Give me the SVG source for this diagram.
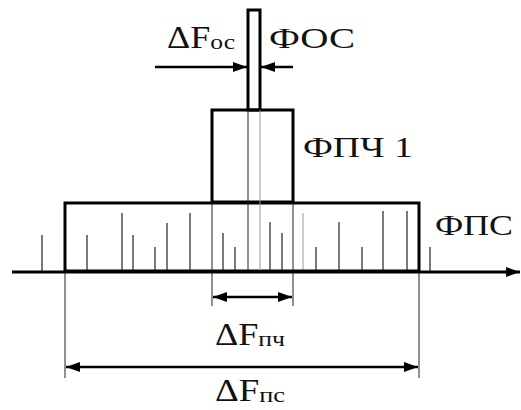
<svg xmlns="http://www.w3.org/2000/svg" width="521" height="410" viewBox="0 0 521 410">
<style>
.box{fill:none;stroke:#000;stroke-width:3}
.thin{stroke:#222;stroke-width:1}
.faint{stroke:#999;stroke-width:1}
.line{stroke:#333;stroke-width:1.3}
.dim{stroke:#000;stroke-width:2.5;fill:none}
.lbl{font-family:"Liberation Serif","Times New Roman",serif;font-size:29px;fill:#111}
.big{font-size:31px}
.sub{font-size:22px}
</style>
<defs>
<marker id="ah" viewBox="0 0 14 10" refX="14" refY="5" markerWidth="14" markerHeight="10" markerUnits="userSpaceOnUse" orient="auto-start-reverse">
<path d="M0,0 L14,5 L0,10 Z" fill="#000"/>
</marker>
</defs>
<g id="spectrum">
<line class="line" x1="42" y1="235" x2="42" y2="271"/>
<line class="line" x1="87" y1="235" x2="87" y2="271"/>
<line class="line" x1="122" y1="213" x2="122" y2="271"/>
<line class="line" x1="133" y1="235" x2="133" y2="271"/>
<line class="line" x1="155" y1="247" x2="155" y2="271"/>
<line class="line" x1="167" y1="223" x2="167" y2="271"/>
<line class="line" x1="190" y1="213" x2="190" y2="271"/>
<line class="line" x1="223" y1="233" x2="223" y2="271"/>
<line class="line" x1="235" y1="247" x2="235" y2="271"/>
<line class="line" x1="270" y1="222" x2="270" y2="271"/>
<line class="line" x1="282" y1="233" x2="282" y2="271"/>
<line class="faint" x1="303" y1="213" x2="303" y2="271"/>
<line class="line" x1="316" y1="247" x2="316" y2="271"/>
<line class="line" x1="339" y1="222" x2="339" y2="271"/>
<line class="line" x1="362" y1="247" x2="362" y2="271"/>
<line class="line" x1="383" y1="211" x2="383" y2="271"/>
<line class="line" x1="407" y1="211" x2="407" y2="271"/>
<line class="line" x1="430" y1="247" x2="430" y2="271"/>
</g>
<g id="FPS">
<rect class="box" x="65" y="203" width="354" height="68"/>
<text class="lbl" x="435" y="235" textLength="78" lengthAdjust="spacingAndGlyphs">ФПС</text>
</g>
<g id="FPCH">
<rect class="box" x="212" y="110" width="81" height="92"/>
<text class="lbl" x="303" y="157" textLength="110" lengthAdjust="spacingAndGlyphs">ФПЧ 1</text>
</g>
<g id="FOS">
<rect class="box" x="248" y="10" width="12" height="100"/>
<text class="lbl" x="269" y="48" textLength="86" lengthAdjust="spacingAndGlyphs">ФОС</text>
</g>
<g id="connectors">
<line class="thin" x1="248" y1="110" x2="248" y2="271"/>
<line class="faint" x1="260" y1="110" x2="260" y2="271"/>
<line class="thin" x1="212" y1="203" x2="212" y2="306"/>
<line class="thin" x1="293" y1="203" x2="293" y2="306"/>
<line class="thin" x1="65" y1="271" x2="65" y2="378"/>
<line class="thin" x1="419" y1="271" x2="419" y2="378"/>
<line x1="12" y1="272" x2="520" y2="272" stroke="#000" stroke-width="3" marker-end="url(#ah)"/>
<line class="dim" x1="155" y1="67" x2="247" y2="67" marker-end="url(#ah)"/>
<line class="dim" x1="293" y1="67" x2="261" y2="67" marker-end="url(#ah)"/>
<line class="dim" x1="213" y1="297" x2="292" y2="297" marker-start="url(#ah)" marker-end="url(#ah)"/>
<line class="dim" x1="66" y1="367" x2="418" y2="367" marker-start="url(#ah)" marker-end="url(#ah)"/>
</g>
<g id="labels">
<text class="lbl big" x="167" y="48" textLength="68" lengthAdjust="spacingAndGlyphs">ΔF<tspan class="sub" dy="1">ос</tspan></text>
<text class="lbl big" x="215" y="345" textLength="70" lengthAdjust="spacingAndGlyphs">ΔF<tspan class="sub" dy="1">пч</tspan></text>
<text class="lbl big" x="215" y="401" textLength="70" lengthAdjust="spacingAndGlyphs">ΔF<tspan class="sub" dy="1">пс</tspan></text>
</g>
</svg>
